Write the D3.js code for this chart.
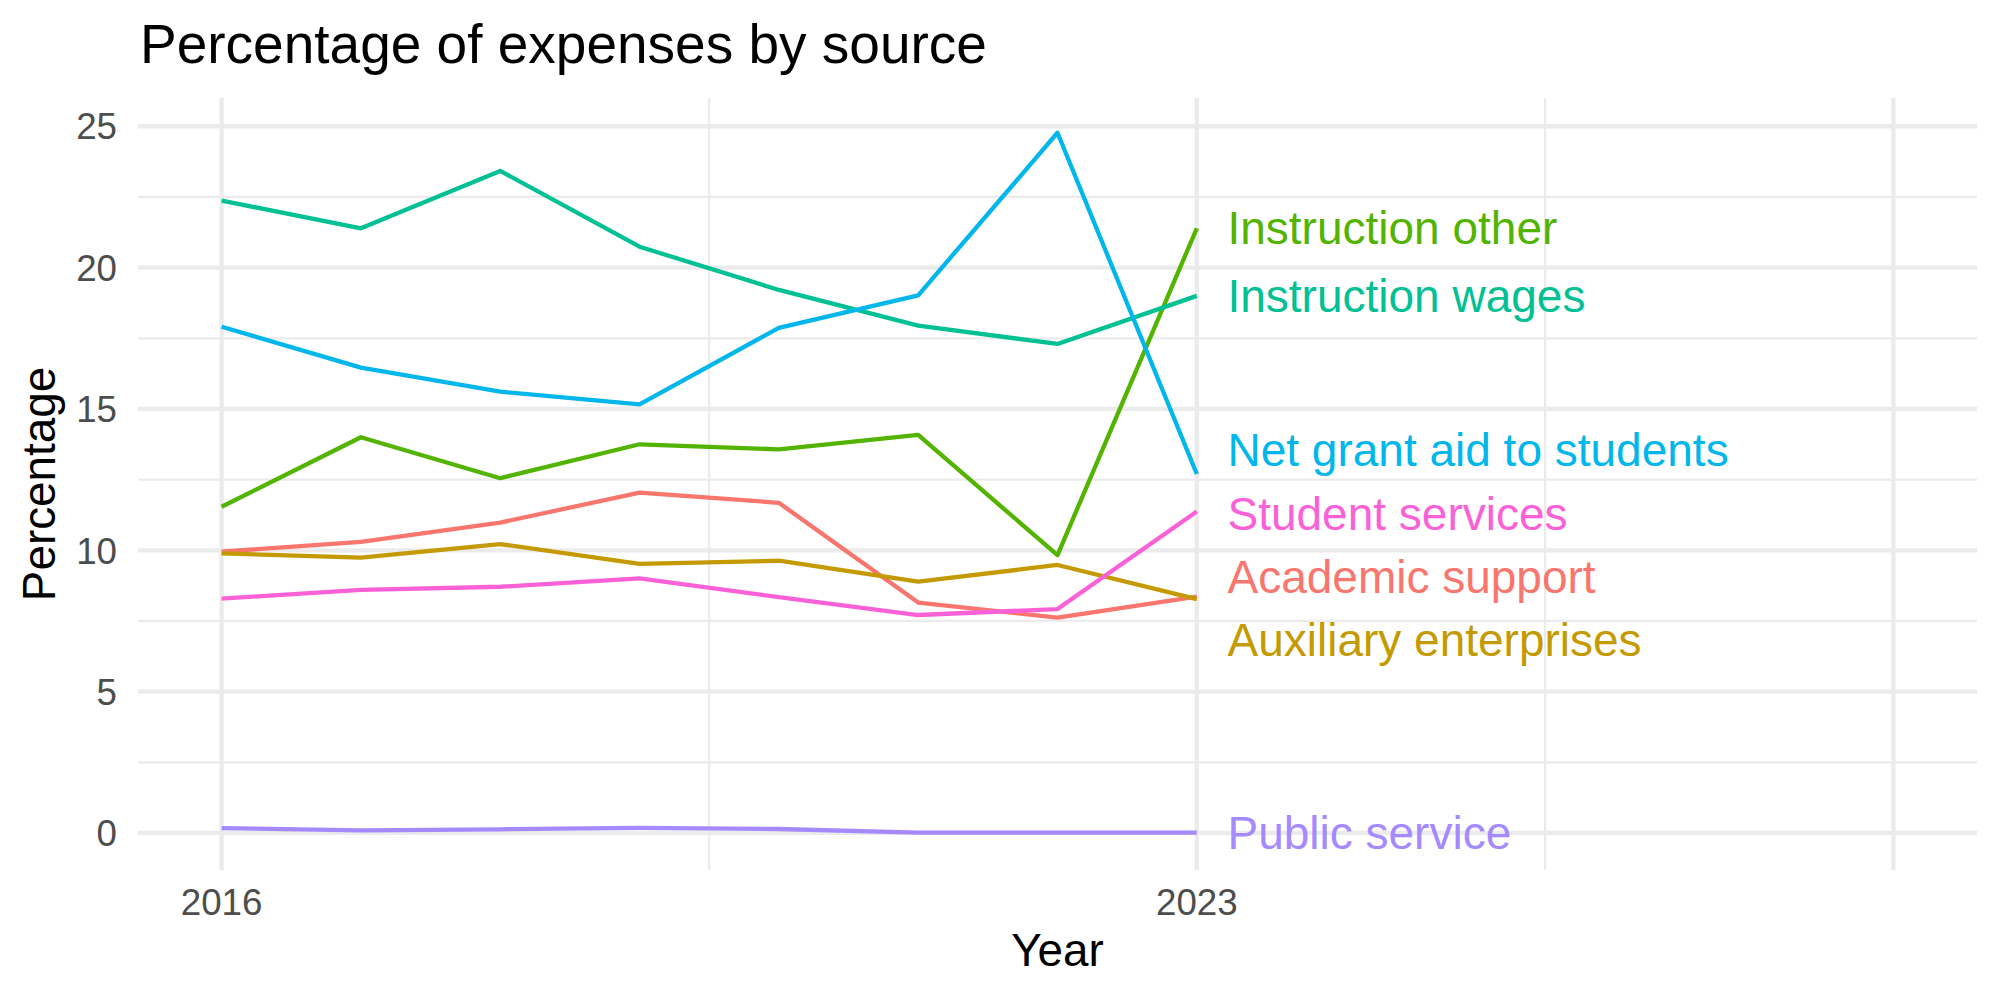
<!DOCTYPE html>
<html>
<head>
<meta charset="utf-8">
<script src="https://cdn.jsdelivr.net/npm/d3@7"></script>
<style>
  html, body { margin: 0; padding: 0; background: #fff; }
  svg { display: block; font-family: "Liberation Sans", Arial, Helvetica, sans-serif; }
</style>
</head>
<body>
<div id="chart"></div>
<script>
// data
const years = [2016, 2017, 2018, 2019, 2020, 2021, 2022, 2023];
const categories = ["Academic support", "Auxiliary enterprises", "Instruction other",
    "Instruction wages", "Net grant aid to students", "Public service", "Student services"];
const academicSupport = [9.95, 10.30, 10.98, 12.04, 11.68, 8.15, 7.62, 8.36];
const auxiliaryEnterprises = [9.89, 9.74, 10.22, 9.52, 9.63, 8.89, 9.48, 8.27];
const instructionOther = [11.54, 14.00, 12.55, 13.75, 13.57, 14.08, 9.83, 21.39];
const instructionWages = [22.37, 21.39, 23.42, 20.74, 19.21, 17.95, 17.30, 19.00];
const netGrantAid = [17.91, 16.46, 15.61, 15.16, 17.87, 19.02, 24.77, 12.70];
const publicService = [0.17, 0.09, 0.13, 0.18, 0.14, 0.01, 0.01, 0.01];
const studentServices = [8.29, 8.60, 8.71, 9.01, 8.34, 7.71, 7.92, 11.37];
const yTicks = [0, 5, 10, 15, 20, 25];
const yMinor = [2.5, 7.5, 12.5, 17.5, 22.5];
const xTicks = [2016, 2023];
const xMajor = [2016, 2023, 2028];
const xMinor = [2019.5, 2025.5];

const seriesValues = [academicSupport, auxiliaryEnterprises, instructionOther,
    instructionWages, netGrantAid, publicService, studentServices];
const colors = ["#F8766D", "#C49A00", "#53B400", "#00C094", "#00B6EB", "#A58AFF", "#FB61D7"];

const width = 2000;
const height = 1000;
const panel = { left: 138, right: 1977, top: 98, bottom: 870 };

const svg = d3.select("#chart")
    .append("svg")
    .attr("width", width)
    .attr("height", height);

const x = d3.scaleLinear()
    .domain([2015.4, 2028.6])
    .range([panel.left, panel.right]);

const y = d3.scaleLinear()
    .domain([-1.31, 26.0])
    .range([panel.bottom, panel.top]);

const grid = svg.append("g").attr("stroke", "#EBEBEB").attr("fill", "none");

// minor grid first, major on top
grid.selectAll(".hminor").data(yMinor).enter().append("line")
    .attr("x1", panel.left).attr("x2", panel.right)
    .attr("y1", d => y(d)).attr("y2", d => y(d))
    .attr("stroke-width", 2.2);
grid.selectAll(".vminor").data(xMinor).enter().append("line")
    .attr("y1", panel.top).attr("y2", panel.bottom)
    .attr("x1", d => x(d)).attr("x2", d => x(d))
    .attr("stroke-width", 2.2);
grid.selectAll(".hmajor").data(yTicks).enter().append("line")
    .attr("x1", panel.left).attr("x2", panel.right)
    .attr("y1", d => y(d)).attr("y2", d => y(d))
    .attr("stroke-width", 4.3);
grid.selectAll(".vmajor").data(xMajor).enter().append("line")
    .attr("y1", panel.top).attr("y2", panel.bottom)
    .attr("x1", d => x(d)).attr("x2", d => x(d))
    .attr("stroke-width", 4.3);

// tick labels
svg.selectAll(".ylab").data(yTicks).enter().append("text")
    .attr("x", 117)
    .attr("y", d => y(d))
    .attr("dy", "0.36em")
    .attr("text-anchor", "end")
    .attr("fill", "#4D4D4D")
    .style("font-size", "36.7px")
    .text(d => d);

svg.selectAll(".xlab").data(xTicks).enter().append("text")
    .attr("x", d => x(d))
    .attr("y", 915)
    .attr("text-anchor", "middle")
    .attr("fill", "#4D4D4D")
    .style("font-size", "36.7px")
    .text(d => d);

// lines
const series = categories.map((name, i) => ({
    name: name,
    color: colors[i],
    values: years.map((yr, j) => ({ year: yr, value: seriesValues[i][j] }))
}));

const line = d3.line()
    .x(d => x(d.year))
    .y(d => y(d.value));

svg.selectAll(".series").data(series).enter().append("path")
    .attr("d", d => line(d.values))
    .attr("fill", "none")
    .attr("stroke", d => d.color)
    .attr("stroke-width", 4.3)
    .attr("stroke-linejoin", "round");

// end labels, dodged vertically so they don't overlap
const gap = 63.3;
let clusters = series
    .map(s => ({ s: s, target: y(s.values[s.values.length - 1].value) }))
    .sort((a, b) => a.target - b.target)
    .map(d => ({ items: [d], mean: d.target }));

function place(c) {
    const n = c.items.length;
    c.start = c.mean - gap * (n - 1) / 2;
    c.end = c.start + gap * (n - 1);
}
clusters.forEach(place);

let merged = true;
while (merged) {
    merged = false;
    for (let i = 0; i < clusters.length - 1; i++) {
        const a = clusters[i], b = clusters[i + 1];
        if (b.start - a.end < gap) {
            const items = a.items.concat(b.items);
            const c = { items: items, mean: d3.mean(items, d => d.target) };
            place(c);
            clusters.splice(i, 2, c);
            merged = true;
            break;
        }
    }
}

const labels = [];
clusters.forEach(c => c.items.forEach((d, k) => {
    labels.push({ name: d.s.name, color: d.s.color, y: c.start + k * gap });
}));

svg.selectAll(".endlab").data(labels).enter().append("text")
    .attr("x", x(2023.22))
    .attr("y", d => d.y)
    .attr("dy", "0.35em")
    .attr("fill", d => d.color)
    .style("font-size", "46px")
    .text(d => d.name);

// titles
svg.append("text")
    .attr("x", 140)
    .attr("y", 63)
    .attr("fill", "#000")
    .style("font-size", "55px")
    .text("Percentage of expenses by source");

svg.append("text")
    .attr("x", (panel.left + panel.right) / 2)
    .attr("y", 966)
    .attr("text-anchor", "middle")
    .attr("fill", "#000")
    .style("font-size", "45.8px")
    .text("Year");

svg.append("text")
    .attr("transform", `translate(55, ${(panel.top + panel.bottom) / 2}) rotate(-90)`)
    .attr("text-anchor", "middle")
    .attr("fill", "#000")
    .style("font-size", "45.8px")
    .text("Percentage");
</script>
</body>
</html>
